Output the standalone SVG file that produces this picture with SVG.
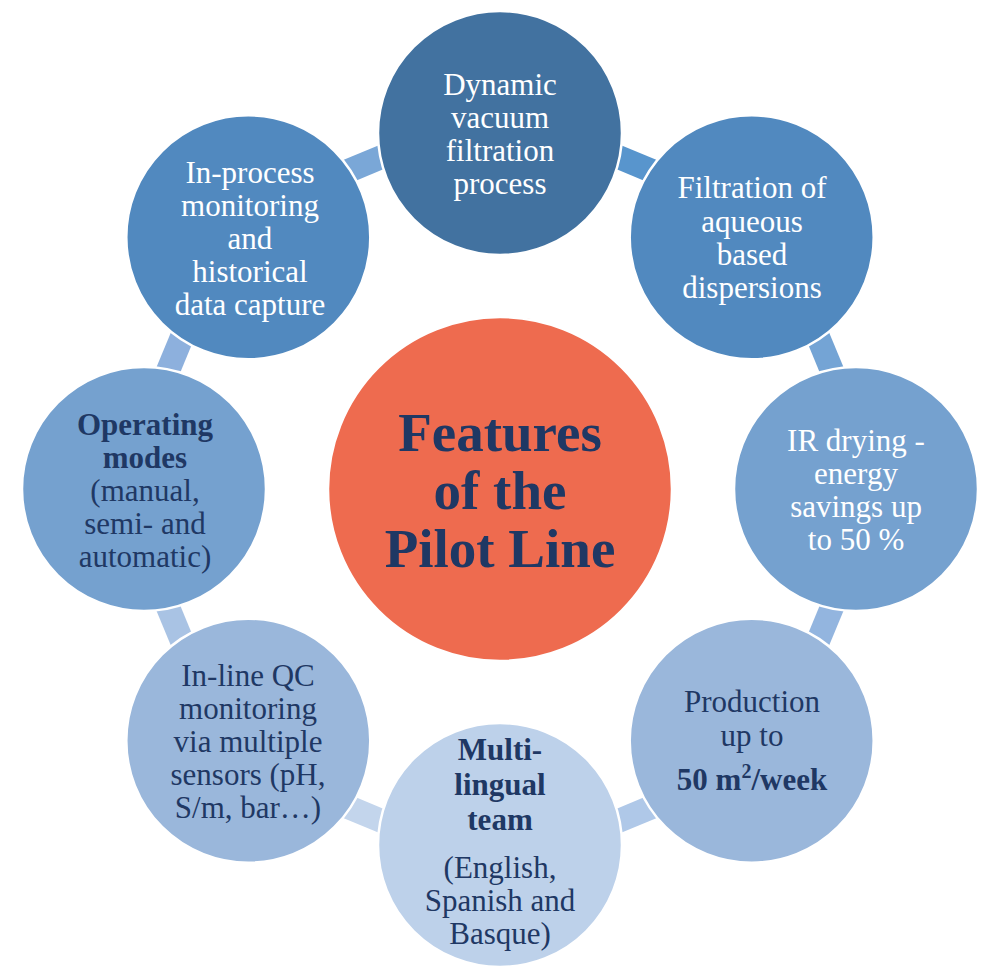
<svg xmlns="http://www.w3.org/2000/svg" width="983" height="966" viewBox="0 0 983 966">
<style>
.c{stroke:#fff;stroke-width:2.5}
.t{font-family:"Liberation Serif","Times New Roman",serif;font-size:31px;text-anchor:middle}
.w{fill:#fff}
.n{fill:#1F3864}
.b{font-weight:bold}
.big{font-family:"Liberation Serif","Times New Roman",serif;font-size:55px;font-weight:bold;text-anchor:middle;fill:#1F3864}
</style>
<rect width="983" height="966" fill="#fff"/>
<g id="connectors">
<rect x="-19" y="-12" width="38" height="24" fill="#5895CD" transform="translate(634.7,163.8) rotate(22.5)"/>
<rect x="-19" y="-12" width="38" height="24" fill="#74A4D5" transform="translate(825.2,354.3) rotate(67.5)"/>
<rect x="-19" y="-12" width="38" height="24" fill="#93B5DF" transform="translate(825.2,623.7) rotate(112.5)"/>
<rect x="-19" y="-12" width="38" height="24" fill="#AFC8E8" transform="translate(634.7,814.2) rotate(157.5)"/>
<rect x="-19" y="-12" width="38" height="24" fill="#C3D5EC" transform="translate(365.3,814.2) rotate(202.5)"/>
<rect x="-19" y="-12" width="38" height="24" fill="#A9C3E4" transform="translate(174.8,623.7) rotate(247.5)"/>
<rect x="-19" y="-12" width="38" height="24" fill="#8DB0DD" transform="translate(174.8,354.3) rotate(292.5)"/>
<rect x="-19" y="-12" width="38" height="24" fill="#7AA7D7" transform="translate(365.3,163.8) rotate(337.5)"/>
</g>
<g id="center">
<circle class="c" cx="500" cy="489" r="172" fill="#EE6B4F"/>
<text class="big" x="500" y="451">Features</text>
<text class="big" x="500" y="509">of the</text>
<text class="big" x="500" y="567">Pilot Line</text>
</g>
<g id="n-top">
<circle class="c" cx="500" cy="133" r="122" fill="#4272A0"/>
<text class="t w" x="500" y="95">Dynamic</text>
<text class="t w" x="500" y="128">vacuum</text>
<text class="t w" x="500" y="161">filtration</text>
<text class="t w" x="500" y="194">process</text>
</g>
<g id="n-topright">
<circle class="c" cx="751.7" cy="237.3" r="122" fill="#5189BF"/>
<text class="t w" x="752" y="198">Filtration of</text>
<text class="t w" x="752" y="232">aqueous</text>
<text class="t w" x="752" y="265">based</text>
<text class="t w" x="752" y="298">dispersions</text>
</g>
<g id="n-right">
<circle class="c" cx="856" cy="489" r="122" fill="#75A1CF"/>
<text class="t w" x="856" y="451">IR drying -</text>
<text class="t w" x="856" y="484">energy</text>
<text class="t w" x="856" y="517">savings up</text>
<text class="t w" x="856" y="550">to 50 %</text>
</g>
<g id="n-bottomright">
<circle class="c" cx="751.7" cy="740.7" r="122" fill="#9AB7DB"/>
<text class="t n" x="752" y="712">Production</text>
<text class="t n" x="752" y="746">up to</text>
<text class="t n b" x="752" y="790">50 m<tspan font-size="20" dy="-12">2</tspan><tspan dy="12">/week</tspan></text>
</g>
<g id="n-bottom">
<circle class="c" cx="500" cy="845" r="122" fill="#BDD1EA"/>
<text class="t n b" x="500" y="760">Multi-</text>
<text class="t n b" x="500" y="795">lingual</text>
<text class="t n b" x="500" y="830">team</text>
<text class="t n" x="500" y="878">(English,</text>
<text class="t n" x="500" y="911">Spanish and</text>
<text class="t n" x="500" y="944">Basque)</text>
</g>
<g id="n-bottomleft">
<circle class="c" cx="248.3" cy="740.7" r="122" fill="#9AB7DB"/>
<text class="t n" x="248" y="686">In-line QC</text>
<text class="t n" x="248" y="719">monitoring</text>
<text class="t n" x="248" y="752">via multiple</text>
<text class="t n" x="248" y="785">sensors (pH,</text>
<text class="t n" x="248" y="818">S/m, bar…)</text>
</g>
<g id="n-left">
<circle class="c" cx="144" cy="489" r="122" fill="#75A1CF"/>
<text class="t n b" x="145" y="435">Operating</text>
<text class="t n b" x="145" y="468">modes</text>
<text class="t n" x="145" y="501">(manual,</text>
<text class="t n" x="145" y="534">semi- and</text>
<text class="t n" x="145" y="567">automatic)</text>
</g>
<g id="n-topleft">
<circle class="c" cx="248.3" cy="237.3" r="122" fill="#5189BF"/>
<text class="t w" x="250" y="183">In-process</text>
<text class="t w" x="250" y="216">monitoring</text>
<text class="t w" x="250" y="249">and</text>
<text class="t w" x="250" y="282">historical</text>
<text class="t w" x="250" y="315">data capture</text>
</g>
</svg>
